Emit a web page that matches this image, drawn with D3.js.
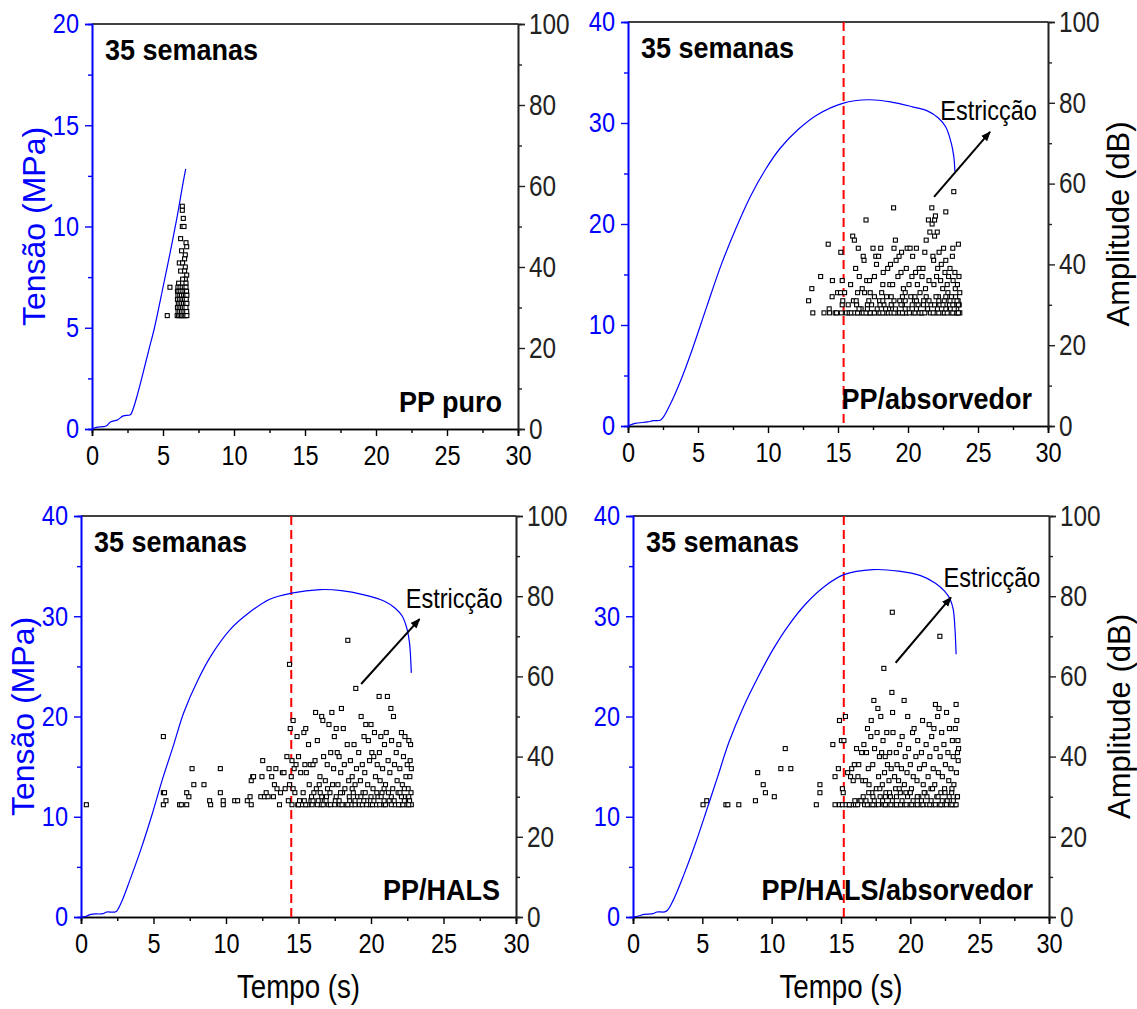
<!DOCTYPE html>
<html>
<head>
<meta charset="utf-8">
<script src="https://cdn.jsdelivr.net/npm/d3@7"></script>
<style>
  body { margin: 0; background: #fff; }
  svg text { font-family: "Liberation Sans Narrow", "Arial Narrow", "Liberation Sans", sans-serif; }
</style>
</head>
<body>
<div id="chart"></div>
<script>
// ---- data (time in s, stress in MPa, amplitude in dB) ----
const timeTicks = [0, 5, 10, 15, 20, 25, 30];
const timeMinor = [2.5, 7.5, 12.5, 17.5, 22.5, 27.5];
const stressTicksPuro = [0, 5, 10, 15, 20];
const stressMinorPuro = [2.5, 7.5, 12.5, 17.5];
const stressTicks = [0, 10, 20, 30, 40];
const stressMinor = [5, 15, 25, 35];
const ampTicks = [0, 20, 40, 60, 80, 100];
const ampMinor = [10, 30, 50, 70, 90];

const sampleNames = ["PP puro", "PP/absorvedor", "PP/HALS", "PP/HALS/absorvedor"];
const weekLabel = "35 semanas";
const neckLabel = "Estricção";
const neckTimes = [null, 15.4, 14.5, 15.2];

const curvePuro = [[0,0],[0.3,0.08],[1.0,0.15],[1.3,0.35],[1.8,0.45],[2.2,0.65],[2.7,0.7],[2.9,1.0],
  [3.2,1.7],[3.5,2.5],[4.0,3.9],[4.4,5.0],[5.0,7.0],[5.5,8.7],[6.0,10.5],[6.4,12.1],[6.6,12.85]];
const curveAbs = [[0,0],[0.5,0.26],[1.4,0.4],[1.8,0.53],[2.34,0.6],[3.0,2.1],[3.78,4.55],[4.57,7.5],
  [5.62,11.8],[6.67,16.0],[7.72,19.6],[8.77,22.8],[9.82,25.4],[10.87,27.5],[12.19,29.4],[13.5,30.8],
  [15.34,31.95],[17.18,32.3],[18.75,32.1],[20.33,31.6],[21.38,31.2],[22.17,30.5],[22.7,29.6],
  [23.09,28.0],[23.27,26.7],[23.35,25.2]];
const curveHals = [[0,0],[0.3,0.03],[0.67,0.27],[1.53,0.33],[1.78,0.5],[2.4,0.53],[2.77,1.43],
  [3.39,3.75],[4.13,6.74],[4.87,10.07],[5.61,13.7],[6.35,17.0],[7.09,20.4],[8.08,23.7],[9.07,26.3],
  [10.3,28.7],[11.54,30.3],[13.02,31.7],[14.5,32.3],[16.48,32.66],[17.96,32.56],[19.45,32.16],
  [20.93,31.5],[21.67,30.8],[22.16,30.0],[22.49,28.7],[22.66,27.3],[22.78,24.35]];
const curveHalsAbs = [[0,0],[0.4,0.1],[0.8,0.27],[1.46,0.33],[1.73,0.5],[2.39,0.56],[2.93,1.76],
  [3.72,4.4],[4.52,7.4],[5.32,10.7],[6.12,14.05],[6.91,17.4],[7.98,21.0],[9.04,24.0],[10.1,26.7],
  [11.17,29.0],[12.5,31.3],[13.83,33.0],[15.21,34.15],[17.29,34.65],[19.15,34.5],[20.74,34.05],
  [21.81,33.3],[22.47,32.5],[22.87,31.7],[23.09,30.7],[23.22,28.7],[23.3,26.2]];

const hitsPuro = [[5.3,28],[5.49,35],
  [6.36,55],[6.36,54],[6.43,52],[6.36,50],[6.48,50],[6.24,47],[6.62,46],[6.67,45],[6.31,44],[6.57,43],
  [6.52,42],[6.15,41],[6.38,41],[6.57,40],[6.24,39],[6.52,39],[6.67,38],[6.57,37],[6.38,37],[6.1,36],[6.62,36],
  [6.05,35],[6.2,35],[6.35,35],[6.5,35],[6.62,35],
  [6.02,34],[6.12,34],[6.25,34],[6.4,34],[6.55,34],[6.66,34],
  [6.05,33],[6.18,33],[6.3,33],[6.45,33],[6.58,33],[6.68,33],
  [6.02,32],[6.15,32],[6.28,32],[6.4,32],[6.52,32],[6.64,32],
  [6.08,31],[6.2,31],[6.32,31],[6.45,31],[6.58,31],[6.68,31],
  [6.02,30],[6.14,30],[6.26,30],[6.38,30],[6.5,30],[6.62,30],
  [6.06,29],[6.18,29],[6.3,29],[6.42,29],[6.55,29],[6.67,29],
  [6.0,28],[6.1,28],[6.2,28],[6.3,28],[6.4,28],[6.5,28],[6.6,28],[6.68,28]];

const hitsAbs = [[12.9,31],[13.13,34],[13.2,28],[13.76,37],[14.0,28],[14.3,45],[14.37,29],[14.4,28],
  [14.58,32],[14.6,36],[14.8,28],[14.9,28],[14.97,33],[15.18,33],[15.2,43],[15.24,28],[15.3,30],[15.3,36],
  [15.34,31],[15.47,33],[15.6,28],[15.73,30],[15.8,28],[15.9,35],[16.05,47],[16.1,31],[16.17,46],[16.26,39],
  [16.33,30],[16.4,33],[16.45,44],[16.52,37],[16.6,28],[16.65,29],[16.73,34],[16.8,42],[16.86,41],[16.9,33],
  [17.0,51],[17.05,36],[17.1,30],[17.18,28],[17.25,36],[17.3,33],[17.44,28],[17.5,44],[17.6,37],[17.7,42],
  [17.75,40],[17.84,28],[17.9,42],[17.97,31],[18.05,44],[18.12,33],[18.2,35],[18.23,38],[18.28,30],[18.39,28],
  [18.47,32],[18.55,39],[18.62,29],[18.7,35],[18.75,40],[18.83,30],[18.9,35],[18.97,54],[19.0,44],[19.1,46],
  [19.15,41],[19.23,28],[19.28,37],[19.36,42],[19.41,31],[19.5,38],[19.54,43],[19.6,30],[19.67,34],[19.73,28],
  [19.8,33],[19.88,39],[19.94,44],[20.0,29],[20.07,35],[20.15,44],[20.2,32],[20.28,37],[20.33,42],[20.38,28],
  [20.46,31],[20.54,38],[20.6,44],[20.67,35],[20.72,30],[20.8,39],[20.86,33],[20.93,28],[21.0,37],[21.07,39],
  [21.12,31],[21.2,43],[21.25,34],[21.3,46],[21.38,29],[21.46,51],[21.5,36],[21.56,48],[21.64,30],[21.7,54],
  [21.72,50],[21.78,42],[21.83,41],[21.85,35],[21.9,47],[21.9,51],[21.96,52],[22.0,28],[22.04,37],[22.09,48],
  [22.12,39],[22.17,32],[22.22,43],[22.27,30],[22.33,36],[22.38,40],[22.43,28],[22.48,34],[22.54,44],[22.59,31],
  [22.64,38],[22.7,53],[22.7,41],[22.75,29],[22.8,35],[22.85,33],[22.9,37],[22.96,30],[23.0,39],[23.06,28],
  [23.1,32],[23.17,42],[23.2,44],[23.22,36],[23.27,58],[23.3,30],[23.35,38],[23.38,34],[23.43,28],[23.48,29],
  [23.53,35],[23.58,31],[23.6,45],[23.64,37],[23.66,30],[23.7,28],[23.7,33],
  [15.95,28],[16.2,28],[16.4,28],[16.8,28],[17.0,28],[17.3,28],[17.6,28],[18.0,28],[18.2,28],[18.6,28],
  [18.8,28],[19.0,28],[19.4,28],[19.6,28],[19.9,28],[20.1,28],[20.5,28],[20.8,28],[21.0,28],[21.2,28],
  [21.6,28],[21.8,28],[22.2,28],[22.6,28],[22.8,28],[23.2,28],[23.5,28],[23.6,28],
  [16.5,29],[17.1,29],[17.8,29],[18.4,29],[19.1,29],[19.8,29],[20.6,29],[21.4,29],[22.1,29],[22.7,29],[23.3,29],
  [17.4,30],[18.0,30],[18.8,30],[19.5,30],[20.3,30],[21.1,30],[21.9,30],[22.5,30],[23.2,30],[23.6,30],
  [16.3,31],[17.2,31],[18.2,31],[19.0,31],[19.8,31],[20.6,31],[21.5,31],[22.2,31],[23.0,31],[23.5,31],
  [17.6,32],[18.8,32],[19.6,32],[20.5,32],[21.3,32],[22.0,32],[22.7,32],[23.4,32]];

const hitsHals = [[0.37,28],[5.68,45],[5.68,31],[5.76,31],[5.68,28],[5.86,29],[6.8,28],[6.92,28],[7.29,31],
  [7.44,30],[7.29,28],[7.66,37],[7.78,33],[8.48,33],[8.87,29],[8.94,28],[9.61,31],[9.61,37],[9.81,29],[9.81,28],
  [10.6,29],[10.8,29],[11.47,29],[11.66,30],[11.74,28],[11.74,34],[11.84,35],[11.9,35],[12.53,39],[12.48,35],
  [12.4,30],[12.65,30],[12.77,31],[12.9,30],[12.97,37],[13.15,35],[13.27,30],[13.34,33],[13.44,37],[13.52,32],
  [13.69,28],[13.76,31],[13.89,36],[14.0,36],[14.08,32],[14.2,40],[14.3,29],[14.38,63],[14.38,33],[14.43,47],
  [14.5,35],[14.55,39],[14.55,28],[14.63,49],[14.63,32],[14.7,37],[14.75,31],[14.83,38],[14.9,45],[14.95,28],
  [15.0,40],[15.07,29],[15.15,36],[15.25,28],[15.32,31],[15.37,46],[15.44,38],[15.5,47],[15.54,36],[15.64,28],
  [15.69,43],[15.74,33],[15.81,38],[15.86,29],[15.94,28],[16.0,38],[16.06,31],[16.14,39],[16.18,51],[16.23,32],
  [16.3,44],[16.36,29],[16.43,33],[16.48,35],[16.55,28],[16.6,50],[16.68,49],[16.73,40],[16.78,29],[16.85,34],
  [16.93,30],[16.98,38],[17.05,28],[17.1,48],[17.17,31],[17.22,41],[17.3,51],[17.35,33],[17.42,37],[17.47,45],
  [17.54,29],[17.6,47],[17.67,41],[17.72,33],[17.8,40],[17.84,28],[17.91,36],[17.96,52],[18.04,31],[18.09,47],
  [18.16,38],[18.2,32],[18.28,28],[18.36,43],[18.4,69],[18.46,34],[18.53,29],[18.58,39],[18.66,28],[18.7,35],
  [18.78,31],[18.83,43],[18.9,33],[18.95,57],[19.0,37],[19.07,30],[19.15,41],[19.2,28],[19.27,34],[19.32,50],
  [19.4,38],[19.45,31],[19.52,45],[19.57,36],[19.64,48],[19.7,29],[19.77,33],[19.82,44],[19.9,39],[19.94,28],
  [20.0,48],[20.06,41],[20.14,32],[20.19,40],[20.24,46],[20.31,35],[20.38,28],[20.43,38],[20.48,30],[20.56,55],
  [20.58,41],[20.63,34],[20.68,45],[20.76,31],[20.8,37],[20.88,28],[20.93,43],[21.0,33],[21.05,46],[21.13,55],
  [21.18,39],[21.25,29],[21.3,36],[21.37,52],[21.42,44],[21.5,32],[21.55,50],[21.62,38],[21.67,28],[21.74,41],
  [21.8,34],[21.87,31],[21.92,43],[21.99,37],[22.04,28],[22.1,46],[22.16,33],[22.24,40],[22.29,30],[22.34,45],
  [22.41,35],[22.46,28],[22.5,38],[22.56,32],[22.61,44],[22.66,29],[22.68,35],[22.7,39],[22.73,43],[22.76,31],
  [22.78,28],[22.78,37],
  [15.0,28],[15.5,28],[16.3,28],[16.7,28],[17.2,28],[17.5,28],[18.0,28],[18.4,28],[18.9,28],[19.4,28],[19.7,28],
  [20.1,28],[20.6,28],[21.0,28],[21.4,28],[21.9,28],[22.2,28],[22.6,28],
  [15.4,29],[16.0,29],[16.9,29],[17.8,29],[18.9,29],[19.5,29],[20.2,29],[20.9,29],[21.6,29],[22.3,29],
  [15.9,30],[16.6,30],[17.6,30],[18.5,30],[19.3,30],[20.0,30],[20.7,30],[21.4,30],[22.1,30],[22.6,30],
  [16.5,31],[17.9,31],[19.6,31],[20.4,31],[21.2,31],[22.0,31],[17.0,32],[18.7,32],[20.9,32],[22.3,32]];

const hitsHalsAbs = [[5.05,28],[5.32,29],[6.7,28],[6.84,28],[7.63,28],[8.83,29],[8.99,36],[9.39,33],[9.55,31],
  [10.19,30],[10.66,37],[10.98,42],[11.38,37],[13.22,28],[13.48,33],[13.48,31],[14.41,43],[14.57,35],[14.57,28],
  [14.81,37],[14.89,49],[14.89,28],[15.03,44],[15.1,28],[15.1,32],[15.16,31],[15.21,44],[15.32,50],[15.37,28],
  [15.48,36],[15.61,28],[15.69,35],[15.77,37],[15.82,28],[15.88,34],[15.96,38],[16.04,28],[16.12,42],[16.22,35],
  [16.28,38],[16.36,29],[16.44,29],[16.49,41],[16.57,34],[16.65,43],[16.7,28],[16.76,34],[16.84,41],[16.91,47],
  [16.97,37],[17.02,33],[17.1,28],[17.15,45],[17.18,49],[17.23,31],[17.29,38],[17.37,54],[17.42,42],[17.47,28],
  [17.55,32],[17.6,46],[17.66,52],[17.71,35],[17.77,40],[17.82,30],[17.87,50],[17.93,41],[17.98,33],[18.03,44],
  [18.09,62],[18.09,28],[18.14,36],[18.19,40],[18.24,31],[18.3,46],[18.35,38],[18.4,28],[18.46,34],[18.51,41],
  [18.56,30],[18.62,37],[18.67,56],[18.7,76],[18.72,51],[18.75,46],[18.8,28],[18.86,35],[18.94,32],[18.99,41],
  [19.04,38],[19.1,28],[19.15,34],[19.23,43],[19.28,31],[19.36,37],[19.41,45],[19.5,28],[19.55,54],[19.57,33],
  [19.63,40],[19.68,31],[19.76,36],[19.81,50],[19.87,42],[19.95,28],[20.0,38],[20.08,32],[20.16,46],[20.21,35],
  [20.27,47],[20.35,28],[20.4,40],[20.48,34],[20.53,44],[20.61,30],[20.66,37],[20.74,28],[20.8,41],[20.88,49],
  [20.93,33],[21.01,38],[21.06,31],[21.14,43],[21.2,28],[21.28,35],[21.36,48],[21.41,40],[21.49,32],[21.54,45],
  [21.6,28],[21.65,37],[21.7,47],[21.76,33],[21.81,53],[21.86,42],[21.91,30],[21.97,50],[22.02,36],[22.07,52],
  [22.07,28],[22.13,70],[22.15,40],[22.2,31],[22.26,46],[22.31,35],[22.37,28],[22.42,43],[22.47,32],[22.53,38],
  [22.61,51],[22.66,29],[22.71,41],[22.77,34],[22.82,47],[22.87,28],[22.93,37],[22.98,31],[23.03,44],[23.09,40],
  [23.14,33],[23.19,28],[23.24,47],[23.3,53],[23.32,36],[23.35,49],[23.38,30],[23.4,41],[23.43,44],[23.45,39],
  [23.48,42],
  [15.6,28],[16.2,28],[16.9,28],[17.3,28],[17.7,28],[18.2,28],[18.6,28],[19.0,28],[19.3,28],[19.7,28],[20.1,28],
  [20.5,28],[20.9,28],[21.4,28],[21.8,28],[22.2,28],[22.6,28],[23.0,28],[23.3,28],
  [16.0,29],[16.8,29],[17.4,29],[18.0,29],[18.7,29],[19.4,29],[20.2,29],[20.8,29],[21.5,29],[22.3,29],[23.1,29],
  [16.6,30],[17.3,30],[18.2,30],[19.0,30],[19.8,30],[20.5,30],[21.2,30],[22.0,30],[22.8,30],[23.4,30],
  [17.0,31],[18.5,31],[20.0,31],[21.0,31],[22.5,31],[17.8,32],[19.2,32],[21.6,32],[23.0,32]];

// annotation arrows: [tail, head] in (s, dB); text anchor in (s, dB)
const neckArrows = [null, [[21.86,56.7],[25.86,72.8]], [[19.32,58.1],[23.35,74.3]], [[18.94,63.4],[22.93,79.7]]];
const neckTextPos = [null, [22.3,75.7], [22.4,77.0], [22.4,82.3]];

// ---- layout ----
const width = 1137, height = 1009;
const blue = "#0000ff";
const boxes = [
  { x0: 92, x1: 518, y0: 24, y1: 429 },
  { x0: 628, x1: 1048, y0: 22, y1: 426 },
  { x0: 81, x1: 516, y0: 516, y1: 917 },
  { x0: 633, x1: 1049, y0: 516, y1: 917 }
];
const panelSpecs = [
  { curve: curvePuro, hits: hitsPuro, sMax: 20, sTicks: stressTicksPuro, sMinor: stressMinorPuro, leftTitle: true, rightTitle: false, bottomTitle: false },
  { curve: curveAbs, hits: hitsAbs, sMax: 40, sTicks: stressTicks, sMinor: stressMinor, leftTitle: false, rightTitle: true, bottomTitle: false },
  { curve: curveHals, hits: hitsHals, sMax: 40, sTicks: stressTicks, sMinor: stressMinor, leftTitle: true, rightTitle: false, bottomTitle: true },
  { curve: curveHalsAbs, hits: hitsHalsAbs, sMax: 40, sTicks: stressTicks, sMinor: stressMinor, leftTitle: false, rightTitle: true, bottomTitle: true }
];

const svg = d3.select("#chart").append("svg")
  .attr("width", width)
  .attr("height", height);

svg.append("defs").append("marker")
  .attr("id", "arrowhead")
  .attr("viewBox", "0 0 10 10")
  .attr("refX", 9).attr("refY", 5)
  .attr("markerWidth", 5).attr("markerHeight", 5)
  .attr("orient", "auto")
  .append("path")
  .attr("d", "M0,1 L10,5 L0,9 Z")
  .attr("fill", "#000");

function styleAxis(g, color, fontSize) {
  g.select(".domain").attr("stroke", color).attr("stroke-width", 1.6);
  g.selectAll(".tick line").attr("stroke", color).attr("stroke-width", 1.4);
  g.selectAll(".tick text").attr("fill", color).attr("class", "narrow").style("font-size", fontSize + "px");
}

// no narrow face is installed, so squeeze the glyphs horizontally
function condense(sel, factor) {
  sel.each(function() {
    const len = this.getComputedTextLength();
    d3.select(this)
      .attr("textLength", len * factor)
      .attr("lengthAdjust", "spacingAndGlyphs");
  });
}

panelSpecs.forEach((p, i) => {
  const b = boxes[i];
  const x = d3.scaleLinear().domain([0, 30]).range([b.x0, b.x1]);
  const yS = d3.scaleLinear().domain([0, p.sMax]).range([b.y1, b.y0]);
  const yA = d3.scaleLinear().domain([0, 100]).range([b.y1, b.y0]);
  const g = svg.append("g");

  // top frame line
  g.append("line")
    .attr("x1", b.x0).attr("x2", b.x1)
    .attr("y1", b.y0).attr("y2", b.y0)
    .attr("stroke", "#000").attr("stroke-width", 1.6);

  // bottom axis
  const gx = g.append("g").attr("transform", `translate(0,${b.y1})`);
  gx.call(d3.axisBottom(x).tickValues(timeTicks).tickSize(7).tickPadding(9).tickFormat(d3.format("d")));
  styleAxis(gx, "#000", 28);
  const gxm = g.append("g").attr("transform", `translate(0,${b.y1})`);
  gxm.call(d3.axisBottom(x).tickValues(timeMinor).tickSize(4).tickFormat(""));
  styleAxis(gxm, "#000", 28);

  // right axis (amplitude)
  const gr = g.append("g").attr("transform", `translate(${b.x1},0)`);
  gr.call(d3.axisRight(yA).tickValues(ampTicks).tickSize(7).tickPadding(4).tickFormat(d3.format("d")));
  styleAxis(gr, "#222", 29);
  const grm = g.append("g").attr("transform", `translate(${b.x1},0)`);
  grm.call(d3.axisRight(yA).tickValues(ampMinor).tickSize(4).tickFormat(""));
  styleAxis(grm, "#222", 28);

  // left axis (stress)
  const gl = g.append("g").attr("transform", `translate(${b.x0},0)`);
  gl.call(d3.axisLeft(yS).tickValues(p.sTicks).tickSize(7).tickPadding(6).tickFormat(d3.format("d")));
  styleAxis(gl, blue, 28);
  const glm = g.append("g").attr("transform", `translate(${b.x0},0)`);
  glm.call(d3.axisLeft(yS).tickValues(p.sMinor).tickSize(4).tickFormat(""));
  styleAxis(glm, blue, 28);

  // necking start marker
  if (neckTimes[i] !== null) {
    g.append("line")
      .attr("x1", x(neckTimes[i])).attr("x2", x(neckTimes[i]))
      .attr("y1", b.y0).attr("y2", b.y1)
      .attr("stroke", "#ff0000").attr("stroke-width", 2)
      .attr("stroke-dasharray", "9,5");
  }

  // acoustic emission hits
  g.selectAll("rect.hit")
    .data(p.hits)
    .enter()
    .append("rect")
    .attr("class", "hit")
    .attr("x", d => x(d[0]) - 2)
    .attr("y", d => yA(d[1]) - 2)
    .attr("width", 4).attr("height", 4)
    .attr("fill", "#fff")
    .attr("stroke", "#000")
    .attr("stroke-width", 1.1);

  // stress curve
  const line = d3.line().x(d => x(d[0])).y(d => yS(d[1])).curve(d3.curveCatmullRom.alpha(0.5));
  g.append("path")
    .datum(p.curve)
    .attr("d", line)
    .attr("fill", "none")
    .attr("stroke", blue)
    .attr("stroke-width", 1.2);

  // arrow + label
  if (neckArrows[i]) {
    const a = neckArrows[i];
    g.append("line")
      .attr("x1", x(a[0][0])).attr("y1", yA(a[0][1]))
      .attr("x2", x(a[1][0])).attr("y2", yA(a[1][1]))
      .attr("stroke", "#000").attr("stroke-width", 2)
      .attr("marker-end", "url(#arrowhead)");
    g.append("text")
      .attr("class", "narrow")
      .attr("x", x(neckTextPos[i][0])).attr("y", yA(neckTextPos[i][1]))
      .attr("font-size", 28).attr("fill", "#000")
      .text(neckLabel);
  }

  // labels inside the frame
  g.append("text")
    .attr("class", "narrowBold")
    .attr("x", b.x0 + 13).attr("y", b.y0 + 36)
    .attr("font-size", 30).attr("font-weight", "bold")
    .text(weekLabel);
  g.append("text")
    .attr("class", "narrowBold")
    .attr("x", b.x1 - 16).attr("y", b.y1 - 17)
    .attr("text-anchor", "end")
    .attr("font-size", 30).attr("font-weight", "bold")
    .text(sampleNames[i]);

  // axis titles
  if (p.leftTitle) {
    g.append("text")
      .attr("transform", `translate(${b.x0 - 47},${(b.y0 + b.y1) / 2}) rotate(-90)`)
      .attr("text-anchor", "middle")
      .attr("fill", blue)
      .style("font-family", "'Liberation Sans', Arial, sans-serif")
      .style("font-size", "32px")
      .text("Tensão (MPa)");
  }
  if (p.rightTitle) {
    g.append("text")
      .attr("transform", `translate(${b.x1 + 81},${(b.y0 + b.y1) / 2}) rotate(-90)`)
      .attr("text-anchor", "middle")
      .attr("fill", "#000")
      .style("font-family", "'Liberation Sans', Arial, sans-serif")
      .style("font-size", "31px")
      .text("Amplitude (dB)");
  }
  if (p.bottomTitle) {
    g.append("text")
      .attr("class", "narrow")
      .attr("x", (b.x0 + b.x1) / 2).attr("y", b.y1 + 81)
      .attr("text-anchor", "middle")
      .style("font-size", "33px")
      .text("Tempo (s)");
  }
});

condense(svg.selectAll("text.narrow"), 0.84);
condense(svg.selectAll("text.narrowBold"), 0.9);
</script>
</body>
</html>
